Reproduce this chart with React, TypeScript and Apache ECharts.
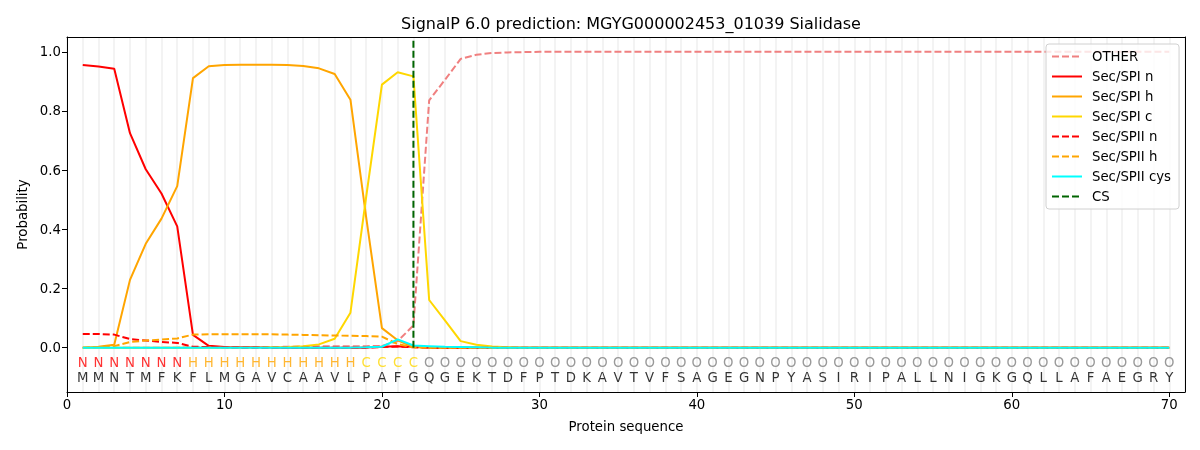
import React, { useEffect, useRef } from "react";
import * as echarts from "echarts";

const sequence = "MMNTMFKFLMGAVCAAVLPAFGQGEKTDFPTDKAVTVFSAGEGNPYASIRIPALLNIGKGQLLAFAEGRY".split("");
const regionLabels = [
  ..."NNNNNNN".split(""),
  ..."HHHHHHHHHHH".split(""),
  ..."CCCC".split(""),
  ...Array(48).fill("O"),
];

const zeros = (n: number) => Array(n).fill(0);

const otherP = [0, 0, 0, 0, 0, 0, 0, 0.001, 0.002, 0.002, 0.002, 0.002, 0.002, 0.003, 0.004, 0.005, 0.005, 0.005, 0.005, 0.006, 0.022, 0.075, 0.836, 0.905, 0.976, 0.99, 0.996, 0.998, 0.999, ...Array(41).fill(1.0)];
const spiN = [0.955, 0.95, 0.943, 0.725, 0.603, 0.521, 0.41, 0.043, 0.006, 0.002, 0.001, 0.001, 0, 0, 0, 0, 0, 0, 0, 0.003, 0.005, 0.003, ...zeros(48)];
const spiH = [0, 0.003, 0.01, 0.229, 0.351, 0.436, 0.546, 0.911, 0.951, 0.955, 0.956, 0.956, 0.956, 0.955, 0.952, 0.944, 0.925, 0.838, 0.44, 0.066, 0.025, 0.002, ...zeros(48)];
const spiC = [0, 0, 0, 0, 0, 0, 0, 0, 0, 0, 0, 0, 0.001, 0.002, 0.005, 0.011, 0.03, 0.118, 0.51, 0.889, 0.931, 0.917, 0.161, 0.092, 0.022, 0.01, 0.004, 0.001, ...zeros(42)];
const spiiN = [0.046, 0.046, 0.044, 0.029, 0.024, 0.019, 0.016, 0.003, 0.002, 0.001, 0, 0, 0, 0, 0, 0, 0, 0, 0, 0.002, 0.004, 0.001, ...zeros(48)];
const spiiH = [0, 0.002, 0.005, 0.019, 0.024, 0.027, 0.031, 0.044, 0.045, 0.045, 0.045, 0.045, 0.045, 0.044, 0.043, 0.042, 0.041, 0.04, 0.039, 0.037, 0.012, 0.001, ...zeros(48)];
const spiiCys = [0, 0, 0, 0, 0, 0, 0, 0, 0, 0, 0, 0, 0, 0, 0, 0, 0, 0, 0.001, 0.003, 0.028, 0.007, 0.005, 0.003, 0.002, 0.001, ...zeros(44)];
const csPosition = 22;
const csRange = [0, 1.04];

const xTicks = [0, 10, 20, 30, 40, 50, 60, 70];
const yTicks = [0, 0.2, 0.4, 0.6, 0.8, 1.0];

const FONT = "DejaVu Sans";
const labelColor: Record<string, string> = { N: "#ff0000", H: "#ffa500", C: "#ffd700", O: "#808080" };

const toXY = (arr: number[]) => arr.map((v, i) => [i + 1, v]);

export default function App() {
  const ref = useRef<HTMLDivElement>(null);
  useEffect(() => {
    const chart = echarts.init(ref.current!, null, { renderer: "svg" });
    const dash = [7, 3];
    const line = (name: string, data: number[], color: string, dashed: boolean) => ({
      name,
      type: "line",
      data: toXY(data),
      symbol: "none",
      xAxisIndex: 0,
      yAxisIndex: 0,
      lineStyle: { color, width: 2, type: dashed ? dash : "solid" },
      itemStyle: { color },
    });
    const series: any[] = [
      line("OTHER", otherP, "#f08080", true),
      line("Sec/SPI n", spiN, "#ff0000", false),
      line("Sec/SPI h", spiH, "#ffa500", false),
      line("Sec/SPI c", spiC, "#ffd700", false),
      line("Sec/SPII n", spiiN, "#ff0000", true),
      line("Sec/SPII h", spiiH, "#ffa500", true),
      line("Sec/SPII cys", spiiCys, "#00ffff", false),
      {
        name: "CS",
        type: "line",
        data: [[csPosition, csRange[0]], [csPosition, csRange[1]]],
        symbol: "none",
        lineStyle: { color: "#006400", width: 2, type: dash },
        itemStyle: { color: "#006400" },
        z: 5,
      },
      {
        name: "regions",
        type: "scatter",
        symbolSize: 1,
        itemStyle: { color: "rgba(0,0,0,0)" },
        data: regionLabels.map((r, i) => ({
          value: [i + 1, -0.05],
          label: { color: labelColor[r] },
        })),
        label: {
          show: true,
          position: "inside",
          formatter: (p: any) => regionLabels[p.dataIndex],
          fontFamily: FONT,
          fontSize: 13.3,
        },
        silent: true,
      },
      {
        name: "residues",
        type: "scatter",
        symbolSize: 1,
        itemStyle: { color: "rgba(0,0,0,0)" },
        data: sequence.map((s, i) => [i + 1, -0.1]),
        label: {
          show: true,
          position: "inside",
          formatter: (p: any) => sequence[p.dataIndex],
          fontFamily: FONT,
          fontSize: 13.3,
          color: "#000",
        },
        silent: true,
      },
    ];
    chart.setOption({
      animation: false,
      textStyle: { fontFamily: FONT },
      title: {
        text: "SignalP 6.0 prediction: MGYG000002453_01039 Sialidase",
        left: 626,
        textAlign: "center",
        top: 10,
        textStyle: { fontFamily: FONT, fontSize: 16, fontWeight: "normal", color: "#000" },
      },
      legend: {
        data: ["OTHER", "Sec/SPI n", "Sec/SPI h", "Sec/SPI c", "Sec/SPII n", "Sec/SPII h", "Sec/SPII cys", "CS"],
        orient: "vertical",
        left: 1046,
        top: 44,
        padding: [6, 8, 6, 5],
        itemGap: 7,
        itemWidth: 30,
        itemHeight: 14,
        itemStyle: { opacity: 0 },
        backgroundColor: "rgba(255,255,255,0.8)",
        borderColor: "#d0d0d0",
        borderWidth: 1,
        borderRadius: 3,
        textStyle: { fontFamily: FONT, fontSize: 13.3, color: "#000", padding: [0, 0, 0, 5] },
      },
      grid: { left: 67, right: 15, top: 37, bottom: 58 },
      xAxis: [
        {
          type: "value",
          min: 0,
          max: 71,
          position: "bottom",
          name: "Protein sequence",
          nameLocation: "middle",
          nameGap: 28,
          nameTextStyle: { fontFamily: FONT, fontSize: 13.3, color: "#000" },
          axisLine: { show: true, onZero: false, lineStyle: { color: "#000", width: 1 } },
          axisTick: { show: true, length: 5, customValues: xTicks, lineStyle: { color: "#000" } },
          axisLabel: { customValues: xTicks, fontFamily: FONT, fontSize: 13.3, color: "#000", margin: 6 },
          splitLine: { show: false },
        },
        {
          type: "value",
          min: 0,
          max: 71,
          interval: 1,
          position: "top",
          axisLine: { show: true, onZero: false, lineStyle: { color: "#000", width: 1 } },
          axisTick: { show: false },
          axisLabel: { show: false },
          splitLine: { show: true, lineStyle: { color: "#f3f3f3", width: 2 } },
        },
      ],
      yAxis: [
        {
          type: "value",
          min: -0.15,
          max: 1.05,
          name: "Probability",
          nameLocation: "middle",
          nameGap: 38,
          nameTextStyle: { fontFamily: FONT, fontSize: 13.3, color: "#000" },
          axisLine: { show: true, onZero: false, lineStyle: { color: "#000", width: 1 } },
          axisTick: { show: true, length: 5, customValues: yTicks, lineStyle: { color: "#000" } },
          axisLabel: {
            customValues: yTicks,
            fontFamily: FONT,
            fontSize: 13.3,
            color: "#000",
            margin: 6,
            formatter: (v: number) => v.toFixed(1),
          },
          splitLine: { show: false },
        },
        {
          type: "value",
          min: -0.15,
          max: 1.05,
          position: "right",
          axisLine: { show: true, onZero: false, lineStyle: { color: "#000", width: 1 } },
          axisTick: { show: false },
          axisLabel: { show: false },
          splitLine: { show: false },
        },
      ],
      series,
    });
    return () => chart.dispose();
  }, []);
  return <div ref={ref} style={{ position: "fixed", left: 0, top: 0, width: 1200, height: 450 }} />;
}
